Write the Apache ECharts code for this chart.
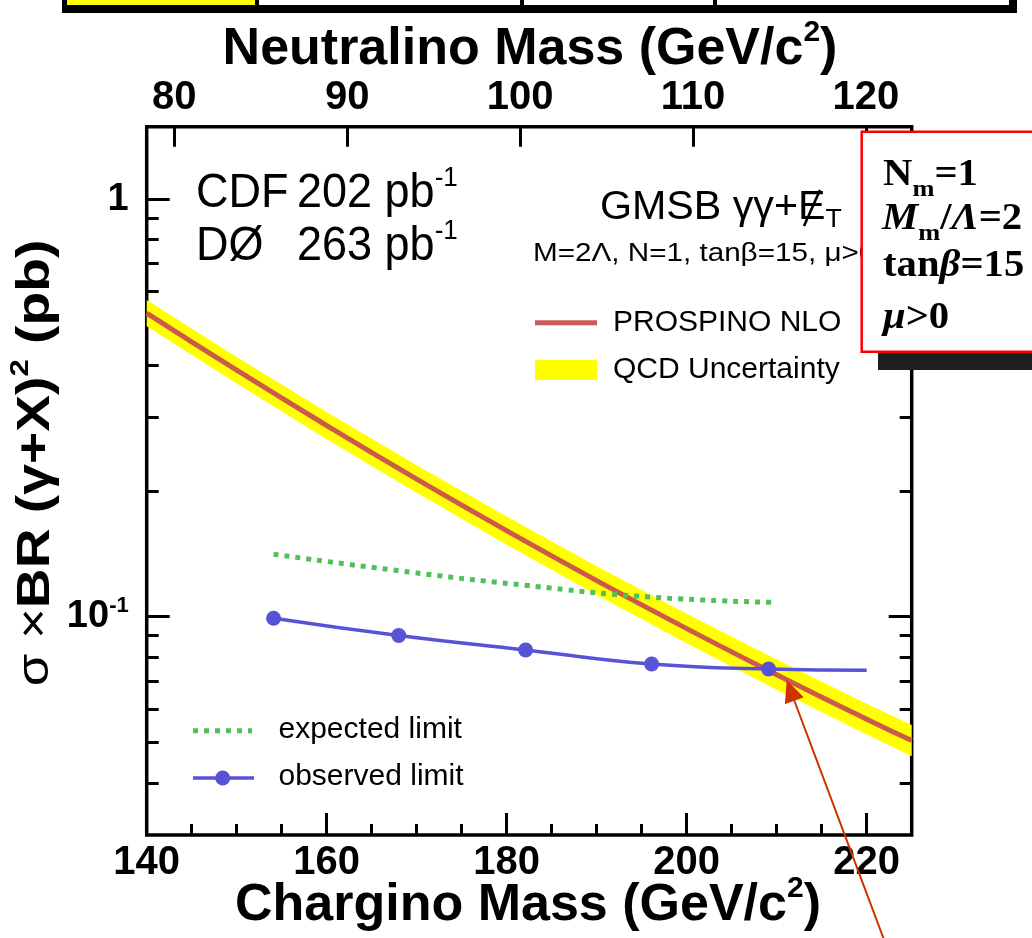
<!DOCTYPE html>
<html>
<head>
<meta charset="utf-8">
<script src="https://cdn.jsdelivr.net/npm/echarts@6.0.0/dist/echarts.min.js"></script>
<style>
html,body{margin:0;padding:0;background:#fff;}
#c{width:1032px;height:938px;}
</style>
</head>
<body>
<div id="c"></div>
<script>
// ---------------- data ----------------
const theoryMass   = [140, 150, 160, 170, 180, 190, 200, 210, 220, 225];
const theoryXsec   = [0.5333, 0.3891, 0.2868, 0.2135, 0.1606, 0.1220, 0.0936, 0.0726, 0.0568, 0.0505];
const bandUpper    = [0.5733, 0.4187, 0.3092, 0.2304, 0.1736, 0.1321, 0.1016, 0.0789, 0.0619, 0.0550];
const bandLower    = [0.4961, 0.3616, 0.2661, 0.1979, 0.1486, 0.1126, 0.0863, 0.0668, 0.0522, 0.0463];
const expectedMass  = [154.1, 168.0, 182.0, 196.0, 209.5];
const expectedLimit = [0.1411, 0.1288, 0.1189, 0.1114, 0.1082];
const observedMass  = [154.1, 168.0, 182.1, 196.1, 209.1, 220.0];
const observedLimit = [0.0991, 0.0901, 0.0832, 0.0770, 0.0749, 0.0744];
const observedMarked = [true, true, true, true, true, false];
const charginoTicks      = [140, 160, 180, 200, 220];
const charginoMinorTicks = [145, 150, 155, 165, 170, 175, 185, 190, 195, 205, 210, 215];
const neutralinoTicks    = [80, 90, 100, 110, 120];
const yMajorTicks = [0.1, 1];
const yMinorTicks = [0.04, 0.05, 0.06, 0.07, 0.08, 0.09, 0.2, 0.3, 0.4, 0.5, 0.6, 0.7, 0.8, 0.9];

// ---------------- style ----------------
const SANS = "'Liberation Sans', Arial, Helvetica, sans-serif";
const SERIF = "'Liberation Serif', 'Times New Roman', serif";
const RED = '#cd5a48', YEL = '#ffff00', GRN = '#52bf5a', BLU = '#5852d6';
const tickLine = {color: '#000', width: 3};

const chart = echarts.init(document.getElementById('c'), null, {renderer: 'canvas'});

function xAx(pos, min, max, ticks, len, labels, margin) {
  return {
    type: 'value', position: pos, min: min, max: max,
    splitLine: {show: false}, axisLine: {show: false},
    axisTick: {show: true, inside: true, length: len, lineStyle: tickLine, customValues: ticks},
    axisLabel: labels ? {show: true, customValues: ticks, fontFamily: SANS, fontWeight: 'bold',
      fontSize: 40, color: '#000', margin: margin} : {show: false}
  };
}
function yAx(pos, ticks, len, labels) {
  return {
    type: 'log', logBase: 10, position: pos, min: 0.03, max: 1.49,
    splitLine: {show: false}, axisLine: {show: false}, minorTick: {show: false},
    axisTick: {show: true, inside: true, length: len, lineStyle: tickLine, customValues: ticks},
    axisLabel: labels ? {
      show: true, customValues: ticks, color: '#000', margin: 18,
      fontFamily: SANS, fontWeight: 'bold', fontSize: 38, lineHeight: 44,
      formatter: v => (Math.abs(v - 1) < 1e-9 ? '1' : '10{sup|-1}'),
      rich: {sup: {fontFamily: SANS, fontWeight: 'bold', fontSize: 22, verticalAlign: 'top', lineHeight: 22}}
    } : {show: false}
  };
}

const theoryData = theoryMass.map((m, i) => [m, theoryXsec[i]]);
const expectedData = expectedMass.map((m, i) => [m, expectedLimit[i]]);
const observedData = observedMass.map((m, i) => observedMarked[i] ? [m, observedLimit[i]] : {value: [m, observedLimit[i]], symbol: 'none'});

function txt(x, y, text, size, opts) {
  opts = opts || {};
  return {
    type: 'text', x: x, y: y, z: opts.z || 60, rotation: opts.rotation || 0,
    scaleX: opts.sx || 1, scaleY: opts.sy || 1,
    style: Object.assign({
      text: text, fill: '#000', fontFamily: opts.family || SANS, fontSize: size,
      fontWeight: opts.weight || 'normal', align: opts.align || 'left', verticalAlign: 'middle'
    }, opts.style || {})
  };
}
const supRich = (fam, size, w) => ({sup: {fontFamily: fam, fontWeight: w || 'normal', fontSize: size, verticalAlign: 'top', lineHeight: size}});

const option = {
  animation: false,
  backgroundColor: '#fff',
  grid: {left: 146.7, top: 126.7, right: 120.3, bottom: 103, containLabel: false, outerBoundsMode: 'none',
         show: true, borderColor: '#000', borderWidth: 3.5, backgroundColor: 'transparent'},
  xAxis: [
    xAx('bottom', 140, 225, charginoTicks, 22, true, 8),
    xAx('bottom', 140, 225, charginoMinorTicks, 11, false, 0),
    xAx('top', 78.4, 122.65, neutralinoTicks, 20, true, 9)
  ],
  yAxis: [
    yAx('left', yMajorTicks, 23, true),
    yAx('left', yMinorTicks, 12, false),
    yAx('right', yMajorTicks, 23, false),
    yAx('right', yMinorTicks, 12, false)
  ],
  series: [
    {
      name: 'QCD Uncertainty', type: 'custom', xAxisIndex: 0, yAxisIndex: 0, z: 1, clip: true, silent: true,
      data: [[theoryMass[0], theoryXsec[0]]],
      renderItem: function (params, api) {
        const pts = [];
        for (let i = 0; i < theoryMass.length; i++) pts.push(api.coord([theoryMass[i], bandUpper[i]]));
        for (let i = theoryMass.length - 1; i >= 0; i--) pts.push(api.coord([theoryMass[i], bandLower[i]]));
        return {type: 'polygon', shape: {points: pts}, style: {fill: YEL}};
      }
    },
    {
      name: 'PROSPINO NLO', type: 'line', xAxisIndex: 0, yAxisIndex: 0, z: 3, smooth: true,
      symbol: 'none', data: theoryData, lineStyle: {color: RED, width: 5}
    },
    {
      name: 'expected limit', type: 'line', xAxisIndex: 0, yAxisIndex: 0, z: 4, smooth: true,
      symbol: 'none', data: expectedData, lineStyle: {color: GRN, width: 5, type: [5, 6], cap: 'butt'}
    },
    {
      name: 'observed limit', type: 'line', xAxisIndex: 0, yAxisIndex: 0, z: 5, smooth: true,
      symbol: 'circle', symbolSize: 15, data: observedData,
      lineStyle: {color: BLU, width: 3.5}, itemStyle: {color: BLU}
    }
  ],
  graphic: {elements: [
    // header strip of the slide
    {type: 'rect', z: 100, shape: {x: 62, y: 0, width: 955, height: 13}, style: {fill: '#000'}},
    {type: 'rect', z: 101, shape: {x: 67, y: 0, width: 188, height: 5}, style: {fill: YEL}},
    {type: 'rect', z: 101, shape: {x: 259, y: 0, width: 261, height: 5}, style: {fill: '#fff'}},
    {type: 'rect', z: 101, shape: {x: 524, y: 0, width: 189, height: 5}, style: {fill: '#fff'}},
    {type: 'rect', z: 101, shape: {x: 717, y: 0, width: 292, height: 5}, style: {fill: '#fff'}},
    // axis titles
    txt(530, 50, 'Neutralino Mass (GeV/c{sup|2})', 52, {weight: 'bold', align: 'center', style: {
      lineHeight: 64, rich: supRich(SANS, 30, 'bold')}}),
    txt(528, 906, 'Chargino Mass (GeV/c{sup|2})', 52, {weight: 'bold', align: 'center', style: {
      lineHeight: 64, rich: supRich(SANS, 30, 'bold')}}),
    txt(36, 463, '{n|σ ×}{b|BR (γ+X)}{s|2}{b| (pb)}', 46, {weight: 'bold', align: 'center', rotation: Math.PI / 2, sx: 1.2, style: {
      lineHeight: 56, rich: {
        n: {fontFamily: SANS, fontWeight: 'normal', fontSize: 44},
        b: {fontFamily: SANS, fontWeight: 'bold', fontSize: 46},
        s: {fontFamily: SANS, fontWeight: 'bold', fontSize: 26, verticalAlign: 'top', lineHeight: 26}}}}),
    // luminosity labels
    txt(196, 194, 'CDF', 45, {sy: 1.08}),
    txt(297, 194, '202 pb{sup|-1}', 45, {sy: 1.08, style: {lineHeight: 56, rich: supRich(SANS, 26)}}),
    txt(196, 247, 'DØ', 45, {sy: 1.08}),
    txt(297, 247, '263 pb{sup|-1}', 45, {sy: 1.08, style: {lineHeight: 56, rich: supRich(SANS, 26)}}),
    // model labels
    txt(600, 208, 'GMSB γγ+E{sub|T}', 40, {sx: 1.03, style: {lineHeight: 50, rich: {sub: {fontFamily: SANS, fontSize: 26, verticalAlign: 'bottom', lineHeight: 26}}}}),
    {type: 'line', z: 61, shape: {x1: 804, y1: 226, x2: 820, y2: 190}, style: {stroke: '#000', lineWidth: 2.6}},
    txt(533, 254, 'M=2Λ, N=1, tanβ=15, μ>0', 26, {sx: 1.14}),
    // upper legend
    {type: 'line', z: 60, shape: {x1: 535, y1: 322.7, x2: 597, y2: 322.7}, style: {stroke: '#c85a5a', lineWidth: 5}},
    txt(613, 322.7, 'PROSPINO NLO', 30),
    {type: 'rect', z: 60, shape: {x: 535, y: 360, width: 62, height: 20}, style: {fill: YEL}},
    txt(613, 370, 'QCD Uncertainty', 30),
    // lower legend
    {type: 'line', z: 60, shape: {x1: 193, y1: 730.7, x2: 252, y2: 730.7}, style: {stroke: GRN, lineWidth: 5, lineDash: [5, 6]}},
    txt(278.5, 730, 'expected limit', 30),
    {type: 'line', z: 60, shape: {x1: 193, y1: 778, x2: 254, y2: 778}, style: {stroke: BLU, lineWidth: 3.5}},
    {type: 'circle', z: 61, shape: {cx: 222.7, cy: 778, r: 7.5}, style: {fill: BLU}},
    txt(278.5, 777, 'observed limit', 30),
    // red annotation box
    {type: 'rect', z: 200, shape: {x: 861.7, y: 131.7, width: 200, height: 220}, style: {fill: '#fff', stroke: '#ff0000', lineWidth: 2.5}},
    {type: 'rect', z: 200, shape: {x: 878, y: 353, width: 160, height: 17}, style: {fill: '#1e1e1e'}},
    txt(883, 175, 'N{sub|m}=1', 37, {family: SERIF, weight: 'bold', z: 201, sx: 1.1, style: {lineHeight: 54,
      rich: {sub: {fontFamily: SERIF, fontWeight: 'bold', fontSize: 24, verticalAlign: 'bottom', lineHeight: 24}}}}),
    txt(882, 219, '{i|M}{sub|m}/{i|Λ}=2', 37, {family: SERIF, weight: 'bold', z: 201, sx: 1.1, style: {lineHeight: 54,
      rich: {i: {fontFamily: SERIF, fontWeight: 'bold', fontStyle: 'italic', fontSize: 37},
             sub: {fontFamily: SERIF, fontWeight: 'bold', fontSize: 24, verticalAlign: 'bottom', lineHeight: 24}}}}),
    txt(883, 266, 'tan{i|β}=15', 37, {family: SERIF, weight: 'bold', z: 201, sx: 1.1, style: {
      rich: {i: {fontFamily: SERIF, fontWeight: 'bold', fontStyle: 'italic', fontSize: 37}}}}),
    txt(883, 318, '{i|μ}>0', 37, {family: SERIF, weight: 'bold', z: 201, sx: 1.1, style: {
      rich: {i: {fontFamily: SERIF, fontWeight: 'bold', fontStyle: 'italic', fontSize: 37}}}}),
    // red arrow
    {type: 'line', z: 210, shape: {x1: 886, y1: 945, x2: 793, y2: 697}, style: {stroke: '#cc3300', lineWidth: 2}},
    {type: 'polygon', z: 210, shape: {points: [[786.7, 680], [803.7, 697.3], [784.9, 704.2]]}, style: {fill: '#cc3300'}}
  ]}
};
chart.setOption(option);
</script>
</body>
</html>
